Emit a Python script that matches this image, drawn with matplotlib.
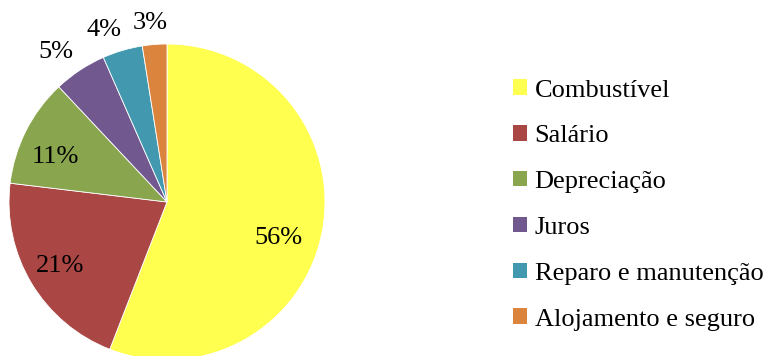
import numpy as np
import matplotlib
matplotlib.use('Agg')
import matplotlib.pyplot as plt
from matplotlib.patches import Patch

plt.rcParams['font.family'] = ['Liberation Serif', 'DejaVu Serif']

categories = ['Combustível', 'Salário', 'Depreciação', 'Juros',
              'Reparo e manutenção', 'Alojamento e seguro']
values = [55.9, 21.0, 11.1, 5.4, 4.1, 2.5]
pct_labels = ['56%', '21%', '11%', '5%', '4%', '3%']
colors = ['#FFFF4F', '#AA4644', '#89A54E', '#71588F', '#4198AF', '#DB843D']
# label placement: radius factor and angle nudge (deg) from wedge middle
label_dist = [0.74, 0.79, 0.76, 1.18, 1.16, 1.14]
label_shift = [-7.4, 0, 4.7, 3.0, 3.7, 0.9]

W, H = 767, 356
fig = plt.figure(figsize=(W / 100, H / 100), dpi=100)
cx, cy, r = 167, 202, 158
ax = fig.add_axes([(cx - r) / W, (H - cy - r) / H, 2 * r / W, 2 * r / H])

wedges, _ = ax.pie(values, colors=colors, startangle=90, counterclock=False,
                   radius=1, wedgeprops=dict(edgecolor='white', linewidth=0.6))
ax.set_xlim(-1, 1)
ax.set_ylim(-1, 1)
ax.axis('off')

for w, lab, d, s in zip(wedges, pct_labels, label_dist, label_shift):
    ang = np.deg2rad((w.theta1 + w.theta2) / 2 + s)
    ax.text(d * np.cos(ang), d * np.sin(ang), lab, ha='center', va='center',
            fontsize=19, clip_on=False)

handles = [Patch(facecolor=c, edgecolor='none') for c in colors]
fig.legend(handles, categories, loc='center left', bbox_to_anchor=(513 / W, 1 - 205 / H),
           frameon=False, fontsize=19, handlelength=0.52, handleheight=0.52,
           handletextpad=0.3, labelspacing=0.9, borderpad=0, borderaxespad=0)

fig.savefig('out.png', dpi=100)
